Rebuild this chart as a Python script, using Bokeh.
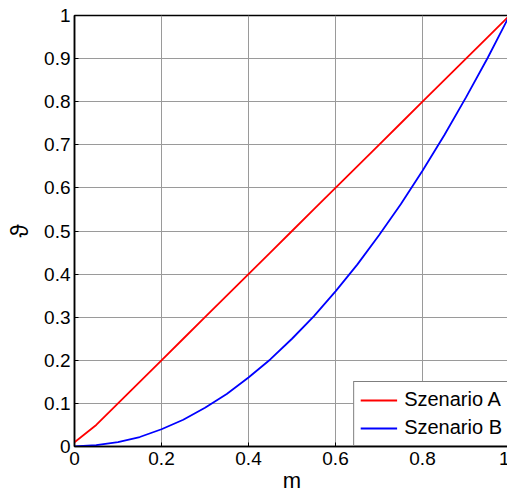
from bokeh.plotting import figure
from bokeh.models import FixedTicker, CustomJSTickFormatter, Range1d, Legend, LegendItem
from bokeh.embed import file_html
from bokeh.resources import INLINE

# Sample positions along m and the two scenario curves (values of theta)
m_vals = [0.0, 0.05, 0.10, 0.15, 0.20, 0.25, 0.30, 0.35, 0.40, 0.45, 0.50,
          0.55, 0.60, 0.65, 0.70, 0.75, 0.80, 0.85, 0.90, 0.95, 1.0]
szenario_a = [0.01, 0.05, 0.10, 0.15, 0.20, 0.25, 0.30, 0.35, 0.40, 0.45, 0.50,
              0.55, 0.60, 0.65, 0.70, 0.75, 0.80, 0.85, 0.90, 0.95, 1.0]
szenario_b = [0.0, 0.003, 0.01, 0.022, 0.04, 0.062, 0.09, 0.122, 0.16, 0.202, 0.25,
              0.302, 0.36, 0.422, 0.49, 0.562, 0.64, 0.722, 0.81, 0.902, 1.0]

x_ticks = [0, 0.2, 0.4, 0.6, 0.8, 1]
y_ticks = [0, 0.1, 0.2, 0.3, 0.4, 0.5, 0.6, 0.7, 0.8, 0.9, 1]

FONT = "Liberation Sans"

p = figure(width=509, height=495, output_backend="svg", toolbar_location=None,
           x_range=Range1d(0, 1), y_range=Range1d(0, 1),
           min_border_left=74, min_border_right=0, min_border_top=15,
           min_border_bottom=49)

p.background_fill_color = "white"
p.border_fill_color = "white"
p.outline_line_color = "black"
p.outline_line_width = 1.5

fmt = CustomJSTickFormatter(code="return String(Math.round(tick * 10) / 10);")

for ax, ticks in ((p.xaxis, x_ticks), (p.yaxis, y_ticks)):
    ax.ticker = FixedTicker(ticks=ticks)
    ax.formatter = fmt
    ax.axis_line_width = 1.5
    ax.axis_line_color = "black"
    ax.major_tick_in = 4
    ax.major_tick_out = 0
    ax.major_tick_line_color = "black"
    ax.minor_tick_line_color = None
    ax.major_label_text_font = FONT
    ax.major_label_text_font_size = "19px"
    ax.major_label_text_color = "black"
    ax.axis_label_text_font = FONT
    ax.axis_label_text_font_style = "normal"
    ax.axis_label_text_color = "black"

p.xaxis.axis_label = "m"
p.xaxis.axis_label_text_font_size = "22px"
p.xaxis.major_label_standoff = 5
p.xaxis.axis_label_standoff = 0
p.yaxis.axis_label = "ϑ"
p.yaxis.axis_label_text_font_size = "24px"
p.yaxis.major_label_standoff = 4
p.yaxis.axis_label_standoff = 8

p.xgrid.ticker = FixedTicker(ticks=x_ticks)
p.ygrid.ticker = FixedTicker(ticks=y_ticks)
for g in (p.xgrid, p.ygrid):
    g.grid_line_color = "#9a9a9a"
    g.grid_line_width = 1

ra = p.line(m_vals, szenario_a, line_color="#ff0000", line_width=1.8)
rb = p.line(m_vals, szenario_b, line_color="#0000ff", line_width=1.8)

legend = Legend(items=[LegendItem(label="Szenario A", renderers=[ra]),
                       LegendItem(label="Szenario B", renderers=[rb])],
                location="bottom_right")
legend.margin = 0
legend.padding = 6
legend.spacing = 5
legend.label_height = 20
legend.glyph_height = 20
legend.glyph_width = 37
legend.label_standoff = 7
legend.label_text_font = FONT
legend.label_text_font_size = "20px"
legend.label_text_color = "black"
legend.border_line_color = "black"
legend.border_line_width = 1
legend.background_fill_color = "white"
legend.background_fill_alpha = 1
p.add_layout(legend)

html = file_html(p, INLINE)
# the plot runs to the right edge of the page; keep scrollbars away
html = html.replace("<head>", "<head><style>html,body{margin:0;overflow:hidden}</style>", 1)
open("out.html", "w").write(html)
